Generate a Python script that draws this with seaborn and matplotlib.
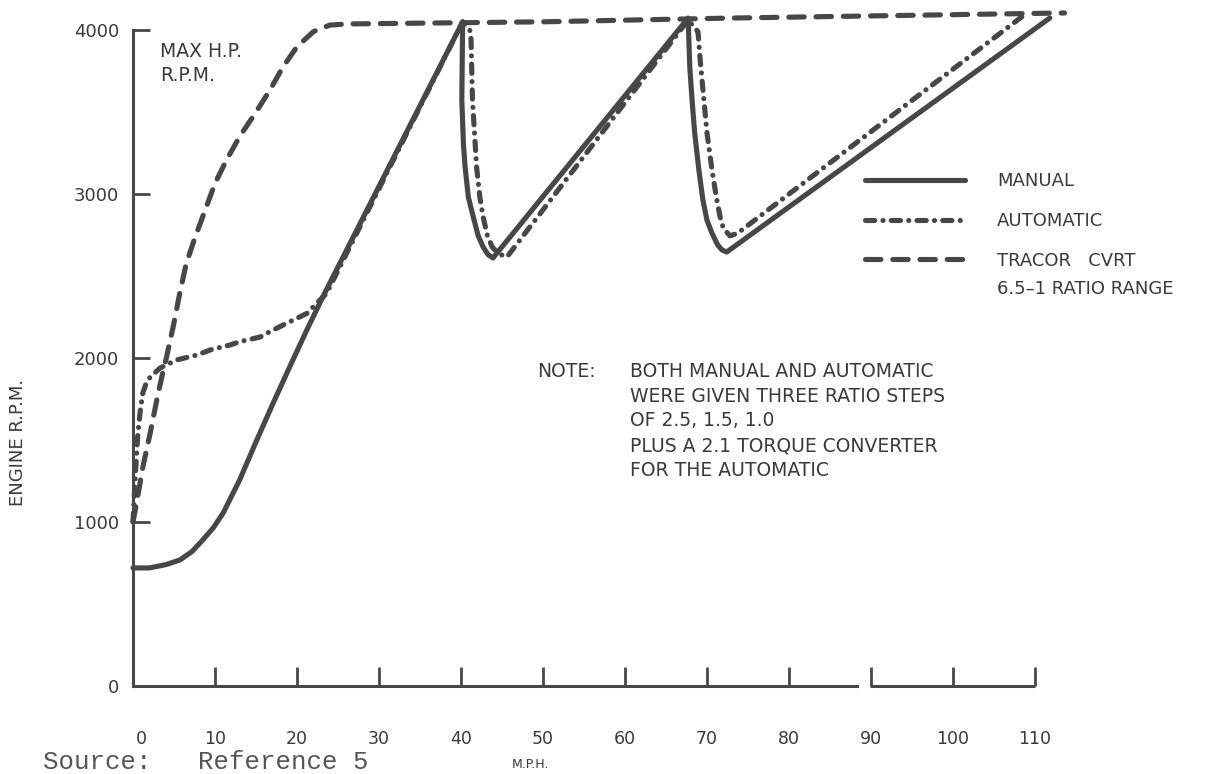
import matplotlib
matplotlib.use("Agg")
import matplotlib.pyplot as plt
from matplotlib.lines import Line2D
from matplotlib.transforms import ScaledTranslation
import numpy as np
import pandas as pd
import seaborn as sns

# ---------------- data ----------------
manual_mph = [0, 2, 4, 5.7, 7.2, 8.5, 9.8, 11, 13, 15.1, 17.1, 19.1, 21.2, 23.2, 40.2,
              40.1, 40.3, 40.5, 40.9, 41.5, 42.1, 42.7, 43.3, 43.9, 67.7,
              67.9, 68.2, 68.5, 69.0, 69.5, 70.0, 70.6, 71.3, 71.8, 72.4, 111.8]
manual_rpm = [720, 720, 740, 768, 820, 890, 965, 1055, 1256, 1500, 1726, 1945, 2171, 2378, 4050,
              3573, 3300, 3165, 2980, 2860, 2745, 2677, 2630, 2610, 4073,
              3774, 3560, 3372, 3150, 2963, 2840, 2762, 2690, 2660, 2646, 4073]

auto_mph = [0, 0.3, 0.6, 0.9, 1.2, 1.6, 2.1, 3.3, 5.3, 7.8, 9.4, 11.8, 13.0, 15.5, 17.1, 18.3,
            21.2, 23.6, 40.2,
            41.2, 41.4, 41.9, 42.3, 42.7, 43.2, 43.8, 44.6, 45.6, 67.7,
            68.9, 69.2, 70.0, 70.6, 71.2, 71.6, 72.0, 72.8, 73.7, 109]
auto_rpm = [1000, 1300, 1543, 1683, 1787, 1845, 1884, 1939, 1988, 2018, 2049, 2079, 2099, 2128, 2171,
            2201, 2272, 2394, 4050,
            3990, 3573, 3165, 2980, 2860, 2750, 2677, 2635, 2616, 4061,
            3990, 3800, 3372, 3150, 2963, 2860, 2790, 2745, 2760, 4104]

cvrt_mph = [0, 0.5, 1.2, 2.1, 2.9, 3.7, 4.1, 4.9, 5.7, 6.5, 7.6, 8.8, 10.0, 11.4, 13.0, 14.9,
            16.7, 18.3, 20.0, 22.0, 24.0, 26.1, 50, 73, 113.6]
cvrt_rpm = [1000, 1134, 1335, 1543, 1744, 1927, 2008, 2191, 2394, 2577, 2740, 2902, 3065, 3207,
            3350, 3492, 3634, 3776, 3898, 3990, 4030, 4037, 4050, 4073, 4104]

series_names = ["MANUAL", "AUTOMATIC", "TRACOR   CVRT"]
x_ticks = [0, 10, 20, 30, 40, 50, 60, 70, 80, 90, 100, 110]
y_ticks = [0, 1000, 2000, 3000, 4000]
note_lines = ["BOTH MANUAL AND AUTOMATIC",
              "WERE GIVEN THREE RATIO STEPS",
              "OF 2.5, 1.5, 1.0",
              "PLUS A 2.1 TORQUE CONVERTER",
              "FOR THE AUTOMATIC"]

# ---------------- style ----------------
sns.set_theme(style="white")
plt.rcParams['font.family'] = ['DejaVu Sans']

INK = "#474747"
TXT = "#3a3a3a"
LW = 3.7
dash_map = {"MANUAL": "",
            "AUTOMATIC": (1.8, 1.6, 0.01, 1.6),
            "TRACOR   CVRT": (3.0, 2.3)}

df = pd.concat([
    pd.DataFrame({"mph": manual_mph, "rpm": manual_rpm, "series": series_names[0]}),
    pd.DataFrame({"mph": auto_mph, "rpm": auto_rpm, "series": series_names[1]}),
    pd.DataFrame({"mph": cvrt_mph, "rpm": cvrt_rpm, "series": series_names[2]}),
], ignore_index=True)

W, H = 1219, 774
fig = plt.figure(figsize=(W / 100, H / 100), dpi=100)
fig.patch.set_facecolor("white")
ax = fig.add_axes([133 / W, 88 / H, 943 / W, 685.5 / H])
ax.set_facecolor("none")

sns.lineplot(data=df, x="mph", y="rpm", style="series", style_order=series_names,
             dashes=dash_map, color=INK, linewidth=LW, sort=False, estimator=None,
             legend=False, ax=ax)
for ln in ax.lines:
    ln.set_dash_capstyle("round")
    ln.set_solid_capstyle("round")
    ln.set_solid_joinstyle("round")
    ln.set_dash_joinstyle("round")
    ln.set_clip_on(False)

ax.set_xlim(0, 115)
ax.set_ylim(0, 4180)
ax.set_xlabel("")
ax.set_ylabel("")

# spines / axes
for s in ["top", "right"]:
    ax.spines[s].set_visible(False)
for s in ["left", "bottom"]:
    ax.spines[s].set_color(INK)
    ax.spines[s].set_linewidth(2.2)
ax.spines["left"].set_bounds(0, 4000)
ax.spines["bottom"].set_bounds(0, 88.3)
ax.hlines(0, 89.9, 110, color=INK, linewidth=2.2, clip_on=False)

ax.set_xticks(x_ticks)
ax.set_xticklabels([str(v) for v in x_ticks])
ax.set_yticks(y_ticks)
ax.set_yticklabels([str(v) for v in y_ticks])
ax.tick_params(axis="x", direction="in", length=14, width=2, color=INK, pad=32,
               labelsize=12.5, labelcolor=TXT, bottom=True)
ax.tick_params(axis="y", direction="in", length=12.5, width=2, color=INK, pad=10,
               labelsize=13, labelcolor=TXT, left=True)
xt = ax.xaxis.get_major_ticks()
xt[0].tick1line.set_visible(False)
xt[0].label1.set_transform(xt[0].label1.get_transform()
                           + ScaledTranslation(8 / 100, 0, fig.dpi_scale_trans))
ax.yaxis.get_major_ticks()[0].tick1line.set_visible(False)

# legend
handles = [Line2D([], [], color=INK, linewidth=LW, solid_capstyle="round"),
           Line2D([], [], color=INK, linewidth=LW, linestyle=(0, dash_map["AUTOMATIC"]),
                  dash_capstyle="round"),
           Line2D([], [], color=INK, linewidth=LW, linestyle=(0, dash_map["TRACOR   CVRT"]),
                  dash_capstyle="round")]
ax.legend(handles, series_names, loc="center left",
          bbox_to_anchor=(865 / W, 1 - 221 / H), bbox_transform=fig.transFigure,
          frameon=False, fontsize=13, labelcolor=TXT, handlelength=5.55,
          handletextpad=1.75, labelspacing=1.2, borderpad=0, borderaxespad=0)
fig.text(997 / W, 1 - 289 / H, "6.5\u20131 RATIO RANGE", fontsize=13, color=TXT,
         ha="left", va="center")

# annotations
fig.text(160 / W, 1 - 42 / H, "MAX H.P.\nR.P.M.", fontsize=13.5, color=TXT,
         ha="left", va="top", linespacing=1.35)
fig.text(537 / W, 1 - 362 / H, "NOTE:", fontsize=13.5, color=TXT, ha="left", va="top")
fig.text(630 / W, 1 - 362 / H, "\n".join(note_lines), fontsize=13.5, color=TXT,
         ha="left", va="top", linespacing=1.38)
fig.text(18 / W, 1 - 442 / H, "ENGINE R.P.M.", fontsize=13, color=TXT, rotation=90,
         ha="center", va="center")
fig.text(530 / W, 1 - 765 / H, "M.P.H.", fontsize=9, color=TXT, ha="center", va="center")
fig.text(43 / W, 0, "Source:   Reference 5", fontsize=18.5, color="#555555",
         family="Liberation Mono", ha="left", va="bottom")

fig.savefig("out.png", dpi=100, facecolor="white")
